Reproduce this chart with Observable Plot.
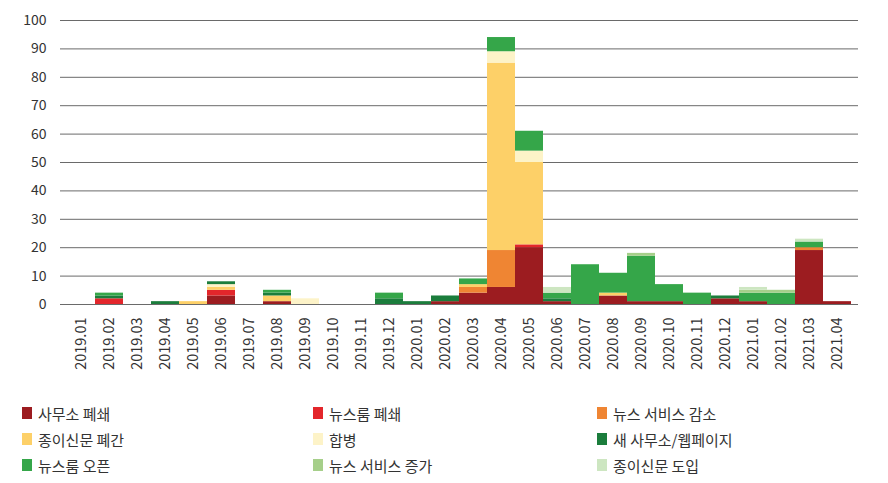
<!DOCTYPE html>
<html>
<head>
<meta charset="utf-8">
<script src="https://cdn.jsdelivr.net/npm/d3@7"></script>
<script src="https://cdn.jsdelivr.net/npm/@observablehq/plot@0.6"></script>
<style>
  body { margin: 0; background: #fff; font-family: "Noto Sans CJK KR", "Noto Sans", sans-serif; }
  #legend { display: grid; grid-template-columns: 291px 284px 280px; margin-left: 22px; margin-top: 15px; color: #333; font-size: 15px; }
  .item { display: flex; align-items: center; height: 26px; }
  .sw { width: 10px; height: 12px; margin-right: 6px; flex: none; }
</style>
</head>
<body>
<div id="chart"></div>
<div id="legend"></div>
<script>
const months = ["2019.01","2019.02","2019.03","2019.04","2019.05","2019.06","2019.07","2019.08","2019.09","2019.10","2019.11","2019.12",
  "2020.01","2020.02","2020.03","2020.04","2020.05","2020.06","2020.07","2020.08","2020.09","2020.10","2020.11","2020.12",
  "2021.01","2021.02","2021.03","2021.04"];

const categories = ["사무소 폐쇄","뉴스룸 폐쇄","뉴스 서비스 감소","종이신문 폐간","합병","새 사무소/웹페이지","뉴스룸 오픈","뉴스 서비스 증가","종이신문 도입"];
const colors = ["#9c1c20","#e3262b","#ef8533","#fdd068","#fdf3c8","#1b7d3c","#35a649","#a6cf8a","#cde6c1"];

const officeClose   = [0,0,0,0,0,3,0,1,0,0,0,0, 0,1,4,6,20,1,0,3,1,1,0,2, 1,0,19,1];
const newsroomClose = [0,2,0,0,0,2,0,0,0,0,0,0, 0,0,0,0,1,0,0,0,0,0,0,0, 0,0,0,0];
const serviceCut    = [0,0,0,0,0,0,0,0,0,0,0,0, 0,0,2,13,0,0,0,0,0,0,0,0, 0,0,1,0];
const printClose    = [0,0,0,0,1,1,0,2,0,0,0,0, 0,0,1,66,29,0,0,1,0,0,0,0, 0,0,0,0];
const merger        = [0,0,0,0,0,1,0,0,2,0,0,0, 0,0,0,4,4,0,0,0,0,0,0,0, 0,0,0,0];
const newOffice     = [0,1,0,1,0,1,0,1,0,0,0,2, 1,2,0,0,0,1,0,0,0,0,0,1, 0,0,0,0];
const newsroomOpen  = [0,1,0,0,0,0,0,1,0,0,0,2, 0,0,2,5,7,2,14,7,16,6,4,0, 3,4,2,0];
const serviceAdd    = [0,0,0,0,0,0,0,0,0,0,0,0, 0,0,0,0,0,0,0,0,1,0,0,0, 1,1,0,0];
const printLaunch   = [0,0,0,0,0,0,0,0,0,0,0,0, 0,0,0,0,0,2,0,0,0,0,0,0, 1,0,1,0];

const yTicks = [0,10,20,30,40,50,60,70,80,90,100];

const series = [officeClose, newsroomClose, serviceCut, printClose, merger, newOffice, newsroomOpen, serviceAdd, printLaunch];
const data = [];
months.forEach((m, i) => {
  series.forEach((s, k) => {
    data.push({month: m, category: categories[k], value: s[i]});
  });
});

const chart = Plot.plot({
  width: 888,
  height: 385,
  marginTop: 20,
  marginLeft: 60,
  marginRight: 30,
  marginBottom: 81,
  style: {fontFamily: "'Noto Sans CJK KR', 'Noto Sans', sans-serif", fontSize: "14px", color: "#333"},
  x: {domain: months, padding: 0, label: null},
  y: {domain: [0, 100], label: null},
  color: {domain: categories, range: colors},
  marks: [
    Plot.gridY(yTicks, {stroke: "#6a6a6a", strokeOpacity: 1, strokeWidth: 1}),
    Plot.axisY(yTicks, {tickSize: 0, tickPadding: 14, label: null, fontSize: 14, fill: "#333"}),
    Plot.barY(data, {x: "month", y: "value", fill: "category", inset: 0}),
    Plot.ruleY([0], {stroke: "#6a6a6a", strokeWidth: 1.2}),
    Plot.axisX({tickRotate: -90, tickSize: 0, tickPadding: 13, label: null, fontSize: 14.5, fill: "#333"})
  ]
});
document.getElementById("chart").appendChild(chart);

const legend = document.getElementById("legend");
categories.forEach((c, k) => {
  const it = document.createElement("div");
  it.className = "item";
  it.innerHTML = `<span class="sw" style="background:${colors[k]}"></span><span>${c}</span>`;
  legend.appendChild(it);
});
</script>
</body>
</html>
